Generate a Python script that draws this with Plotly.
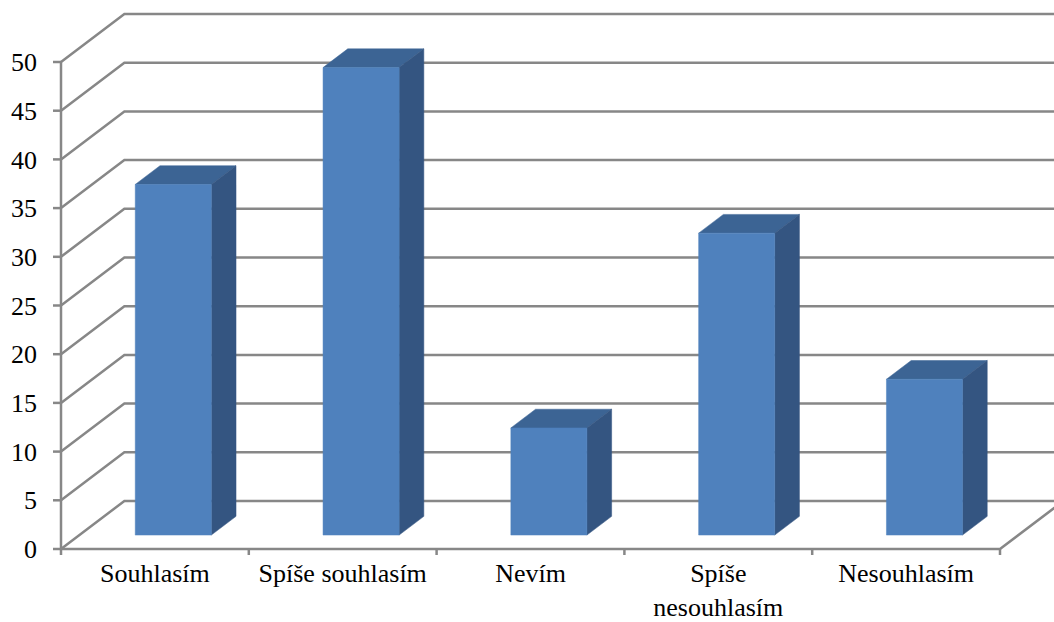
import plotly.graph_objects as go

# Survey answers and counts
categories = ["Souhlasím", "Spíše souhlasím", "Nevím", "Spíše<br>nesouhlasím", "Nesouhlasím"]
values = [36, 48, 11, 31, 16]
y_ticks = [0, 5, 10, 15, 20, 25, 30, 35, 40, 45, 50]

# Pseudo-3D projection: shift applied for full depth of the chart box
DX = 0.3375          # in category units
DY = 4.93            # in value units
BAR_W = 0.405        # bar width (category units)
F_DEPTH, B_DEPTH = 0.29, 0.68   # bar front/back depth fractions
TICK_X = 8 / 187.8   # y-axis tick mark length (category units)
TICK_Y = 0.75        # x-axis tick mark length (value units)

FRONT = "#4F81BD"
TOP = "#3C6494"
SIDE = "#345581"
GRID = "#878787"
FONT = "Liberation Serif, 'Times New Roman', Times, serif"

n = len(categories)
x_left, x_right = -0.5, n - 0.5


def proj(x, y, d):
    return x + d * DX, y + d * DY


fig = go.Figure()


def add_line(xs, ys, width=2.5):
    fig.add_trace(go.Scatter(x=xs, y=ys, mode="lines",
                             line=dict(color=GRID, width=width),
                             hoverinfo="skip", showlegend=False))


def add_poly(pts, color):
    xs = [p[0] for p in pts] + [pts[0][0]]
    ys = [p[1] for p in pts] + [pts[0][1]]
    fig.add_trace(go.Scatter(x=xs, y=ys, mode="lines", fill="toself",
                             fillcolor=color, line=dict(color=color, width=0.5),
                             hoverinfo="skip", showlegend=False))


# Left wall diagonals and back wall gridlines
for t in y_ticks:
    bx, by = proj(x_left, t, 1)
    fx, _ = proj(x_right, t, 1)
    add_line([x_left, bx, fx], [t, by, by])

# Floor front edge and right edge
rx, ry = proj(x_right, 0, 1)
add_line([x_left, x_right, rx], [0, 0, ry])

# Vertical value axis at the front-left corner
add_line([x_left, x_left], [0, y_ticks[-1]])

# Tick marks on the value axis
for t in y_ticks:
    add_line([x_left - TICK_X, x_left], [t, t])

# Tick marks between categories
for k in range(n + 1):
    xb = x_left + k
    add_line([xb, xb], [0, -TICK_Y])

# Bars: top, side, front faces
for i, v in enumerate(values):
    xl, xr = i - BAR_W / 2, i + BAR_W / 2
    top = [proj(xl, v, F_DEPTH), proj(xr, v, F_DEPTH),
           proj(xr, v, B_DEPTH), proj(xl, v, B_DEPTH)]
    side = [proj(xr, 0, F_DEPTH), proj(xr, 0, B_DEPTH),
            proj(xr, v, B_DEPTH), proj(xr, v, F_DEPTH)]
    front = [proj(xl, 0, F_DEPTH), proj(xr, 0, F_DEPTH),
             proj(xr, v, F_DEPTH), proj(xl, v, F_DEPTH)]
    add_poly(top, TOP)
    add_poly(side, SIDE)
    add_poly(front, FRONT)

W, H = 1054, 622
ML, MB = 50, 67
px_per_cat = 187.8
px_per_val = 9.74
plot_w = W - ML
plot_h = H - MB
x0 = x_left - (61 - ML) / px_per_cat
y0 = -((H - MB) - 549) / px_per_val

fig.update_layout(
    width=W, height=H,
    margin=dict(l=ML, r=0, t=0, b=MB, autoexpand=False),
    paper_bgcolor="white", plot_bgcolor="white",
    font=dict(family=FONT, size=26, color="black"),
    xaxis=dict(range=[x0, x0 + plot_w / px_per_cat], showgrid=False,
               zeroline=False, showline=False, ticks="",
               tickvals=list(range(n)), ticktext=categories,
               ticklabelstandoff=0, fixedrange=True),
    yaxis=dict(range=[y0, y0 + plot_h / px_per_val], showgrid=False,
               zeroline=False, showline=False, ticks="",
               tickvals=y_ticks, ticklabelstandoff=12, fixedrange=True),
    showlegend=False,
)

fig.write_html("out.html")
